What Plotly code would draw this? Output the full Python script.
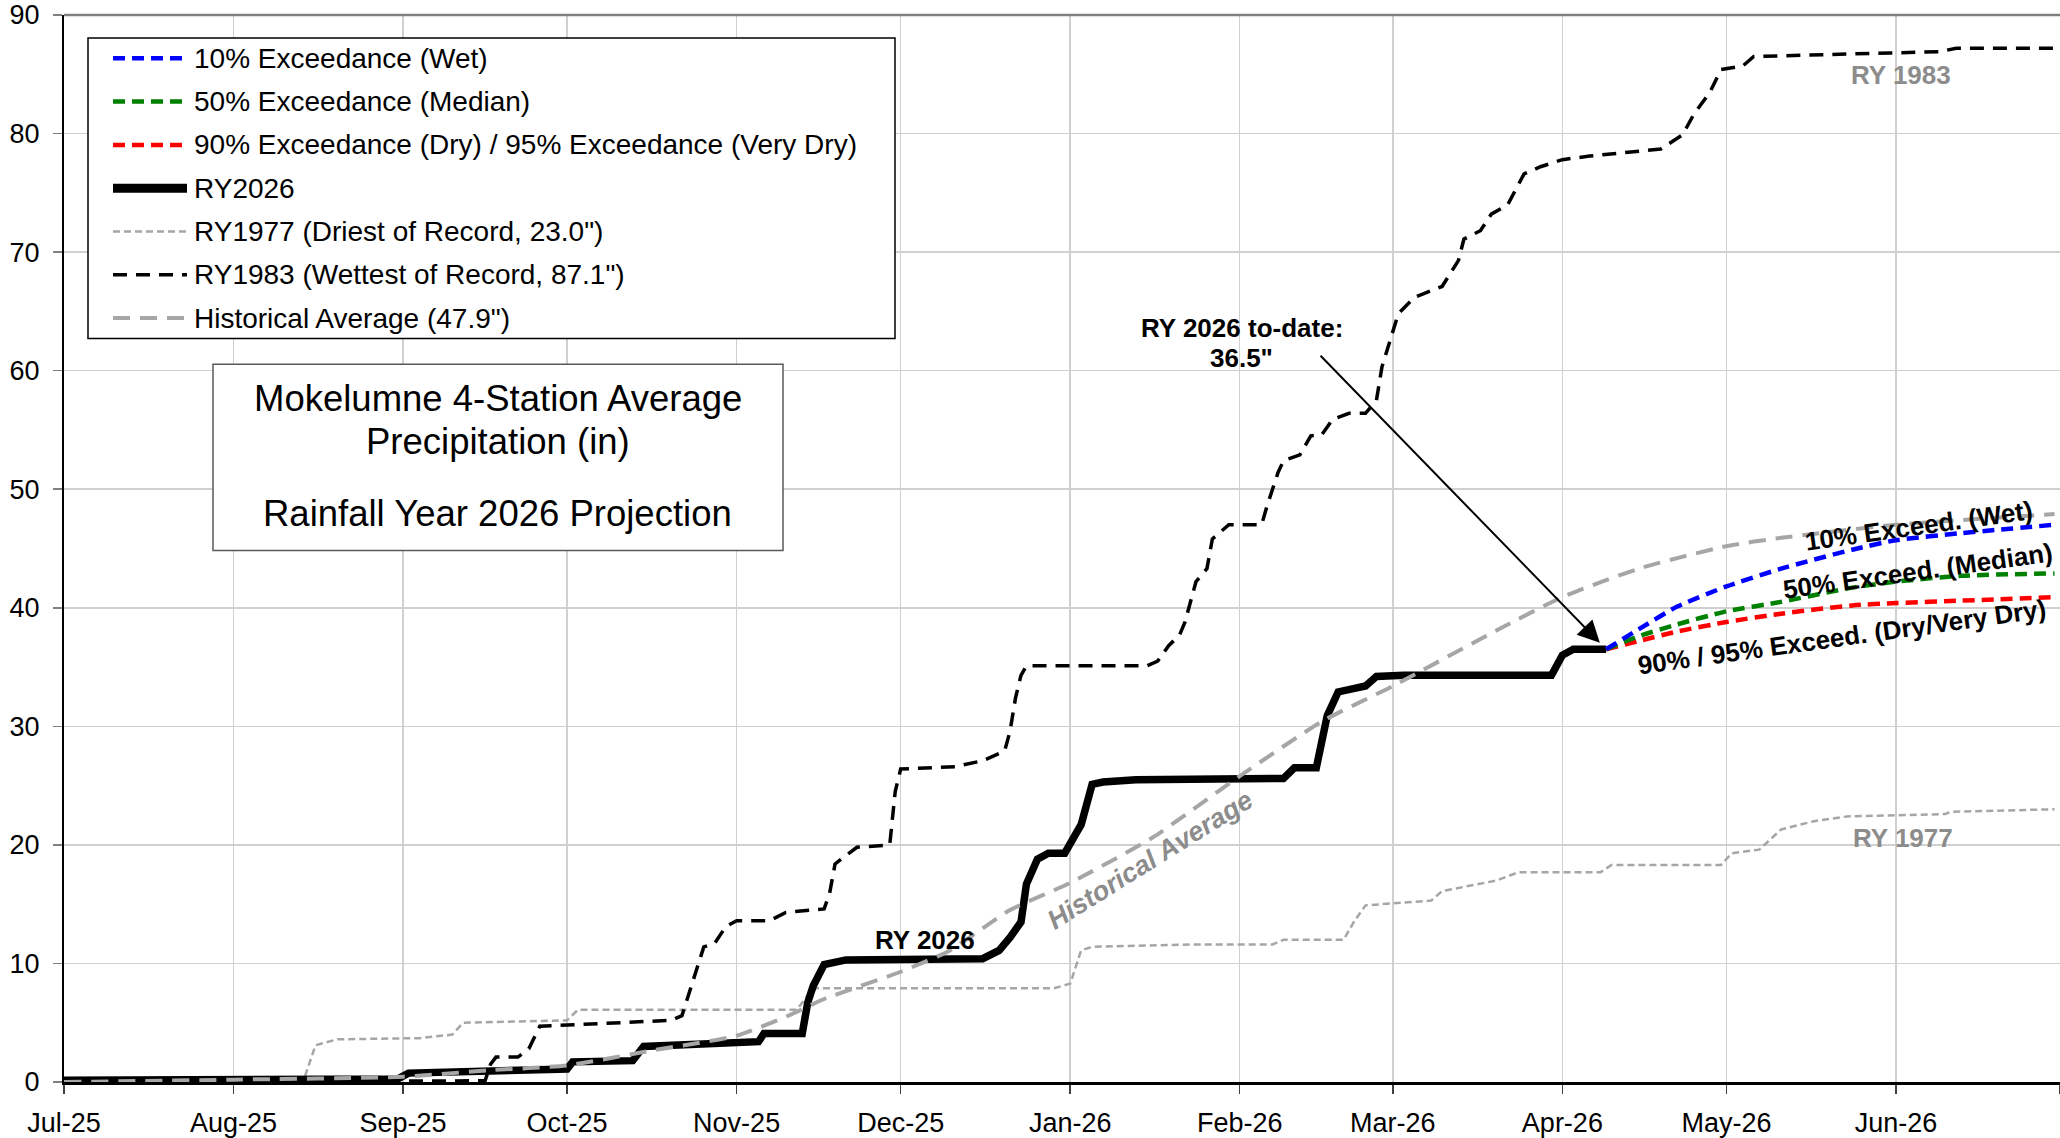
import plotly.graph_objects as go

# ---------------- data ----------------
ry2026_dates = ["2025-07-01", "2025-08-31", "2025-09-02", "2025-09-17", "2025-10-01", "2025-10-02",
                "2025-10-13", "2025-10-15", "2025-11-05", "2025-11-06", "2025-11-13", "2025-11-14",
                "2025-11-15", "2025-11-17", "2025-11-21", "2025-12-16", "2025-12-19", "2025-12-21",
                "2025-12-23", "2025-12-24", "2025-12-26", "2025-12-28", "2025-12-31", "2026-01-02",
                "2026-01-03", "2026-01-05", "2026-01-07", "2026-01-13", "2026-02-09", "2026-02-11",
                "2026-02-15", "2026-02-17", "2026-02-19", "2026-02-22", "2026-02-24", "2026-02-26",
                "2026-03-03", "2026-03-30", "2026-04-01", "2026-04-03", "2026-04-09"]
ry2026_vals = [0.15, 0.25, 0.75, 0.85, 1.1, 1.7,
               1.8, 3.0, 3.4, 4.1, 4.1, 6.7,
               8.1, 9.9, 10.3, 10.4, 11.1, 12.2,
               13.5, 16.7, 18.8, 19.3, 19.3, 20.9,
               21.7, 25.1, 25.3, 25.5, 25.6, 26.5,
               26.5, 30.9, 32.9, 33.2, 33.4, 34.2,
               34.3, 34.3, 36.0, 36.5, 36.5]

proj_dates = ["2026-04-09", "2026-04-15", "2026-04-22", "2026-05-01", "2026-05-11",
              "2026-05-24", "2026-06-01", "2026-06-13", "2026-06-30"]
wet10_vals = [36.5, 38.2, 40.1, 41.8, 43.3, 44.9, 45.7, 46.3, 47.0]
median50_vals = [36.5, 37.6, 38.6, 39.7, 40.5, 41.7, 42.2, 42.7, 42.9]
dry90_vals = [36.5, 37.2, 38.0, 38.8, 39.5, 40.2, 40.4, 40.6, 40.9]

ry1977_dates = ["2025-07-01", "2025-07-20", "2025-08-10", "2025-08-14", "2025-08-16", "2025-08-20",
                "2025-09-04", "2025-09-10", "2025-09-12", "2025-10-01", "2025-10-03", "2025-11-12",
                "2025-11-15", "2025-12-29", "2026-01-01", "2026-01-03", "2026-01-05", "2026-01-23",
                "2026-02-07", "2026-02-09", "2026-02-20", "2026-02-22", "2026-02-24", "2026-03-08",
                "2026-03-10", "2026-03-20", "2026-03-24", "2026-04-08", "2026-04-10", "2026-04-30",
                "2026-05-02", "2026-05-07", "2026-05-11", "2026-05-17", "2026-05-23", "2026-06-10",
                "2026-06-11", "2026-06-30"]
ry1977_vals = [0.0, 0.1, 0.3, 0.4, 3.1, 3.6,
               3.7, 4.0, 5.0, 5.2, 6.1, 6.1,
               7.9, 7.9, 8.3, 11.1, 11.4, 11.6,
               11.6, 12.0, 12.0, 13.6, 14.9, 15.3,
               16.1, 17.0, 17.7, 17.7, 18.3, 18.3,
               19.3, 19.6, 21.3, 22.0, 22.4, 22.6,
               22.8, 23.0]

ry1983_dates = ["2025-07-01", "2025-09-16", "2025-09-17", "2025-09-18", "2025-09-22", "2025-09-24",
                "2025-09-26", "2025-10-20", "2025-10-22", "2025-10-24", "2025-10-26", "2025-10-28",
                "2025-10-30", "2025-11-01", "2025-11-07", "2025-11-10", "2025-11-17", "2025-11-18",
                "2025-11-19", "2025-11-21", "2025-11-23", "2025-11-29", "2025-11-30", "2025-12-01",
                "2025-12-11", "2025-12-16", "2025-12-20", "2025-12-21", "2025-12-22", "2025-12-23",
                "2025-12-24", "2026-01-15", "2026-01-17", "2026-01-19", "2026-01-21", "2026-01-22",
                "2026-01-24", "2026-01-26", "2026-01-27", "2026-01-30", "2026-02-05", "2026-02-06",
                "2026-02-08", "2026-02-09", "2026-02-12", "2026-02-14", "2026-02-16", "2026-02-18",
                "2026-02-21", "2026-02-24", "2026-02-26", "2026-02-27", "2026-03-01", "2026-03-02",
                "2026-03-05", "2026-03-10", "2026-03-13", "2026-03-14", "2026-03-17", "2026-03-19",
                "2026-03-22", "2026-03-25", "2026-03-28", "2026-04-01", "2026-04-06", "2026-04-19",
                "2026-04-23", "2026-04-25", "2026-04-28", "2026-04-30", "2026-05-04", "2026-05-06",
                "2026-05-31", "2026-06-09", "2026-06-12", "2026-06-30"]
ry1983_vals = [0.0, 0.1, 1.5, 2.1, 2.1, 2.8,
               4.7, 5.2, 5.6, 8.6, 11.4, 11.7,
               13.1, 13.6, 13.6, 14.3, 14.6, 15.9,
               18.4, 19.1, 19.8, 20.0, 24.5, 26.4,
               26.6, 27.1, 27.9, 29.6, 32.4, 34.3,
               35.1, 35.1, 35.5, 36.8, 37.7, 38.8,
               42.2, 43.3, 45.8, 47.0, 47.0, 48.6,
               51.4, 52.4, 52.9, 54.5, 54.6, 55.9,
               56.4, 56.4, 57.5, 60.3, 63.4, 64.8,
               66.2, 67.1, 69.3, 71.1, 71.8, 73.2,
               74.0, 76.6, 77.2, 77.8, 78.1, 78.7,
               79.9, 81.6, 83.5, 85.4, 85.7, 86.5,
               86.8, 86.9, 87.2, 87.2]

hist_dates = ["2025-07-01", "2025-08-01", "2025-09-01", "2025-09-17", "2025-10-01", "2025-10-17",
              "2025-11-01", "2025-11-11", "2025-11-17", "2025-12-01", "2025-12-10", "2025-12-21",
              "2026-01-01", "2026-01-16", "2026-02-01", "2026-02-16", "2026-03-01", "2026-03-20",
              "2026-04-01", "2026-04-15", "2026-05-01", "2026-05-11", "2026-06-01", "2026-06-30"]
hist_vals = [0.0, 0.2, 0.45, 1.0, 1.4, 2.7,
             3.9, 5.7, 7.0, 9.3, 11.1, 14.5,
             16.8, 20.6, 25.8, 30.4, 33.4, 38.1,
             40.9, 43.3, 45.2, 45.9, 47.0, 47.9]

legend_labels = ["10% Exceedance (Wet)", "50% Exceedance (Median)",
                 "90% Exceedance (Dry) / 95% Exceedance (Very Dry)", "RY2026",
                 "RY1977 (Driest of Record, 23.0\")", "RY1983 (Wettest of Record, 87.1\")",
                 "Historical Average (47.9\")"]

y_ticks = [0, 10, 20, 30, 40, 50, 60, 70, 80, 90]

# ---------------- styles ----------------
FONT = "Liberation Sans, Arial, sans-serif"
GRAY_LINE = "#a6a6a6"
GRAY_TEXT = "#8c8c8c"
BLUE = "#0000ff"
GREEN = "#008000"
RED = "#ff0000"

st_wet = dict(color=BLUE, width=4.5, dash="12px,7px")
st_med = dict(color=GREEN, width=4.5, dash="12px,7px")
st_dry = dict(color=RED, width=4.5, dash="12px,7px")
st_2026 = dict(color="black", width=7.5)
st_1977 = dict(color=GRAY_LINE, width=2.5, dash="7px,4px")
st_1983 = dict(color="black", width=3.5, dash="14px,9px")
st_hist = dict(color=GRAY_LINE, width=4, dash="17px,10px")

fig = go.Figure()
fig.add_trace(go.Scatter(x=ry1977_dates, y=ry1977_vals, mode="lines", name=legend_labels[4], line=st_1977))
fig.add_trace(go.Scatter(x=ry1983_dates, y=ry1983_vals, mode="lines", name=legend_labels[5], line=st_1983))
fig.add_trace(go.Scatter(x=ry2026_dates, y=ry2026_vals, mode="lines", name=legend_labels[3], line=st_2026))
fig.add_trace(go.Scatter(x=hist_dates, y=hist_vals, mode="lines", name=legend_labels[6],
                         line=dict(shape="spline", smoothing=0.6, **st_hist)))
fig.add_trace(go.Scatter(x=proj_dates, y=dry90_vals, mode="lines", name=legend_labels[2],
                         line=dict(shape="spline", smoothing=0.6, **st_dry)))
fig.add_trace(go.Scatter(x=proj_dates, y=median50_vals, mode="lines", name=legend_labels[1],
                         line=dict(shape="spline", smoothing=0.6, **st_med)))
fig.add_trace(go.Scatter(x=proj_dates, y=wet10_vals, mode="lines", name=legend_labels[0],
                         line=dict(shape="spline", smoothing=0.6, **st_wet)))

# ---------------- geometry helpers (pixel -> paper) ----------------
W, H = 2060, 1138
ML, MR, MT, MB = 64, 0, 13, 53
PW = W - ML - MR
PH = H - MT - MB


def px(x):
    return (x - ML) / PW


def py(y):
    return (H - MB - y) / PH


shapes = []
annotations = []

# top border line
shapes.append(dict(type="line", xref="paper", yref="paper", x0=0, x1=1, y0=1, y1=1,
                   line=dict(color="#7f7f7f", width=2.5), layer="above"))

# legend box
shapes.append(dict(type="rect", xref="paper", yref="paper", x0=px(88), x1=px(895), y0=py(338), y1=py(36),
                   line=dict(color="black", width=1.5), fillcolor="white", layer="above"))
legend_styles = [st_wet, st_med, st_dry, dict(color="black", width=9), st_1977, st_1983, st_hist]
row_y = [56.5 + 43.5 * i for i in range(7)]
for lab_txt, st, ry in zip(legend_labels, legend_styles, row_y):
    shapes.append(dict(type="line", xref="paper", yref="paper", x0=px(113), x1=px(187), y0=py(ry), y1=py(ry),
                       line=st, layer="above"))
    annotations.append(dict(xref="paper", yref="paper", x=px(192), y=py(ry), xanchor="left", yanchor="middle",
                            text=lab_txt, showarrow=False, font=dict(family=FONT, size=28, color="black")))

# title box
shapes.append(dict(type="rect", xref="paper", yref="paper", x0=px(213), x1=px(783), y0=py(551), y1=py(364),
                   line=dict(color="#595959", width=1.5), fillcolor="white", layer="above"))
for txt, ty in [("Mokelumne 4-Station Average", 398), ("Precipitation (in)", 442),
                ("Rainfall Year 2026 Projection", 514)]:
    annotations.append(dict(xref="paper", yref="paper", x=px(497.5), y=py(ty), xanchor="center",
                            yanchor="middle", text=txt, showarrow=False,
                            font=dict(family=FONT, size=36.5, color="black")))


# series labels
def lab(text, x, y, color="black", angle=0, italic=False, size=26):
    t = "<b>" + text + "</b>"
    if italic:
        t = "<i>" + t + "</i>"
    annotations.append(dict(xref="paper", yref="paper", x=px(x), y=py(y), xanchor="center", yanchor="middle",
                            text=t, showarrow=False, textangle=angle,
                            font=dict(family=FONT, size=size, color=color)))


lab("RY 2026", 925, 942)
lab("Historical Average", 1150, 862, color=GRAY_TEXT, angle=-32, italic=True, size=27)
lab("RY 1983", 1901, 73, color=GRAY_TEXT)
lab("RY 1977", 1903, 840, color=GRAY_TEXT)
lab("RY 2026 to-date:", 1242, 327)
lab("36.5\"", 1241, 358)
lab("10% Exceed. (Wet)", 1918, 526, angle=-8)
lab("50% Exceed. (Median)", 1918, 572, angle=-8)
lab("90% / 95% Exceed. (Dry/Very Dry)", 1842, 638, angle=-8)

# arrow to latest RY2026 value
annotations.append(dict(x=ry2026_dates[-1], y=ry2026_vals[-1], xref="x", yref="y",
                        ax=-287, ay=-295, axref="pixel", ayref="pixel", text="",
                        showarrow=True, arrowhead=2, arrowsize=2.2, arrowwidth=2,
                        arrowcolor="black", standoff=9))

fig.update_layout(
    width=W, height=H,
    margin=dict(l=ML, r=MR, t=MT, b=MB, pad=0),
    paper_bgcolor="white", plot_bgcolor="white",
    showlegend=False,
    font=dict(family=FONT, size=27, color="black"),
    shapes=shapes, annotations=annotations,
    xaxis=dict(range=["2025-07-01", "2026-07-01"], dtick="M1", tick0="2025-07-01", tickformat="%b-%y",
               showgrid=True, gridcolor="#d0d0d0", gridwidth=1.5,
               showline=True, linecolor="black", linewidth=2.5,
               ticks="outside", ticklen=9, tickwidth=1.5, tickcolor="#404040",
               tickfont=dict(family=FONT, size=27, color="black"), ticklabelstandoff=6,
               zeroline=False, fixedrange=True),
    yaxis=dict(range=[0, 90], tickvals=y_ticks, showgrid=True, gridcolor="#d0d0d0", gridwidth=1.5,
               showline=True, linecolor="black", linewidth=2,
               ticks="outside", ticklen=9, tickwidth=1.5, tickcolor="#808080",
               tickfont=dict(family=FONT, size=27, color="black"), ticklabelstandoff=8,
               ticklabeloverflow="allow",
               zeroline=False, fixedrange=True),
)

fig.write_html("out.html", config={"displayModeBar": False, "staticPlot": True},
               post_script="document.body.style.margin='0';document.body.style.overflow='hidden';")
